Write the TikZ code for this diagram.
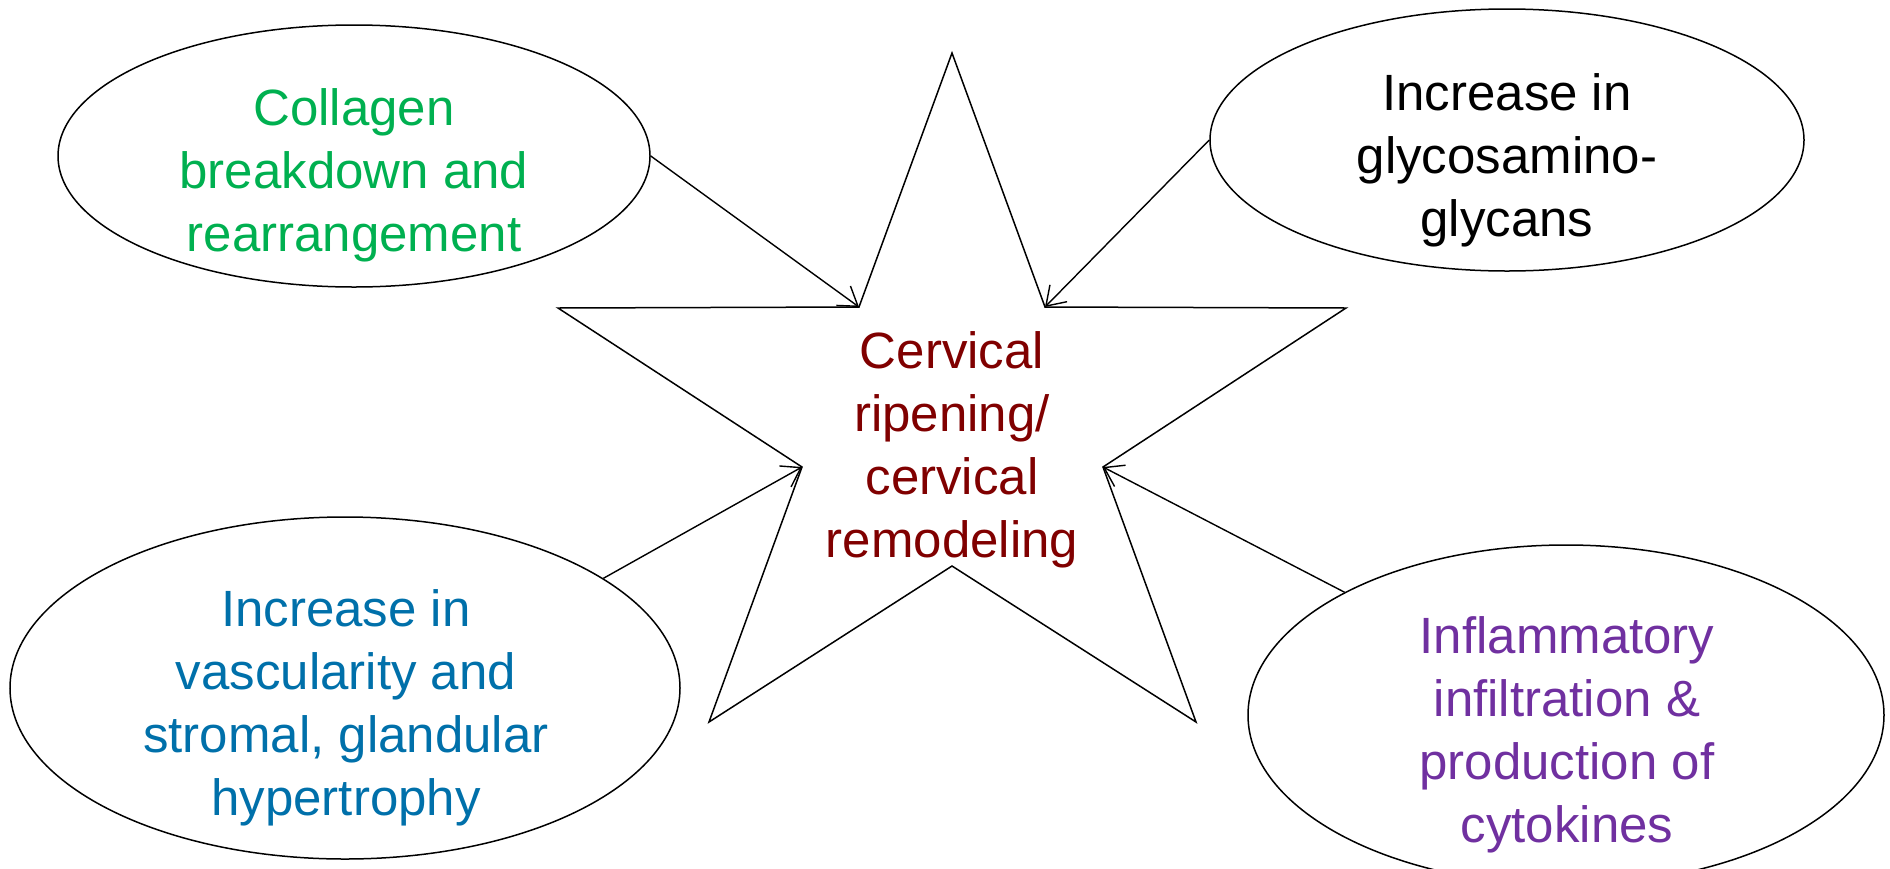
\documentclass[tikz,border=0pt]{standalone}
\usepackage{fontspec}
\setmainfont{Liberation Sans}
\usetikzlibrary{shapes.geometric,arrows.meta}
\definecolor{cgreen}{RGB}{0,176,80}
\definecolor{cblue}{RGB}{0,112,170}
\definecolor{cred}{RGB}{128,0,0}
\definecolor{cpurple}{RGB}{112,48,160}
\tikzset{
  oval/.style={draw=black, line width=1.5pt, ellipse, inner sep=0pt},
  lbl/.style={align=center, inner sep=0pt, font=\fontsize{51}{63}\selectfont},
  conn/.style={line width=1.4pt, -{Straight Barb[length=18pt,width=24pt,line width=1.4pt]}},
  starline/.style={line width=1.5pt, line join=miter}
}
\begin{document}
\begin{tikzpicture}[x=1pt,y=-1pt]
\useasboundingbox (0,0) rectangle (1890,868);
\clip (0,0) rectangle (1890,868);
% star points
\coordinate (s1) at (952,53);
\coordinate (s2) at (1045,307);
\coordinate (s3) at (1346,308);
\coordinate (s4) at (1103,467);
\coordinate (s5) at (1196,722);
\coordinate (s6) at (952,566);
\coordinate (s7) at (709,722);
\coordinate (s8) at (802,467);
\coordinate (s9) at (558,308);
\coordinate (s10) at (859,307);
\draw[starline] (s1) -- (s2) -- (s3) -- (s4) -- (s5) -- (s6) -- (s7) -- (s8) -- (s9) -- (s10) -- cycle;
% ellipses
\node[oval, minimum width=592pt, minimum height=262pt] (col) at (354,156) {};
\node[oval, minimum width=594pt, minimum height=262pt] (gly) at (1507,140) {};
\node[oval, minimum width=670pt, minimum height=342pt] (vas) at (345,688) {};
\node[oval, minimum width=636pt, minimum height=340pt] (inf) at (1566,715) {};
% texts
\node[lbl, text=cgreen] (tcol) at (354,175) {Collagen\\breakdown and\\rearrangement};
\node[lbl, text=black] (tgly) at (1507,160) {Increase in\\glycosamino-\\glycans};
\node[lbl, text=cred] (tcen) at (952,450) {Cervical\\ripening/\\cervical\\remodeling};
\node[lbl, text=cblue] (tvas) at (346,708) {Increase in\\vascularity and\\stromal, glandular\\hypertrophy};
\node[lbl, text=cpurple] (tinf) at (1567,735) {Inflammatory\\infiltration \&\\production of\\cytokines};
% connectors
\draw[conn] (col.east) -- (s10);
\draw[conn] (gly.west) -- (s2);
\draw[conn] (vas.23.6) -- (s8);
\draw[conn] (inf.151.8) -- (s4);
\end{tikzpicture}
\end{document}
